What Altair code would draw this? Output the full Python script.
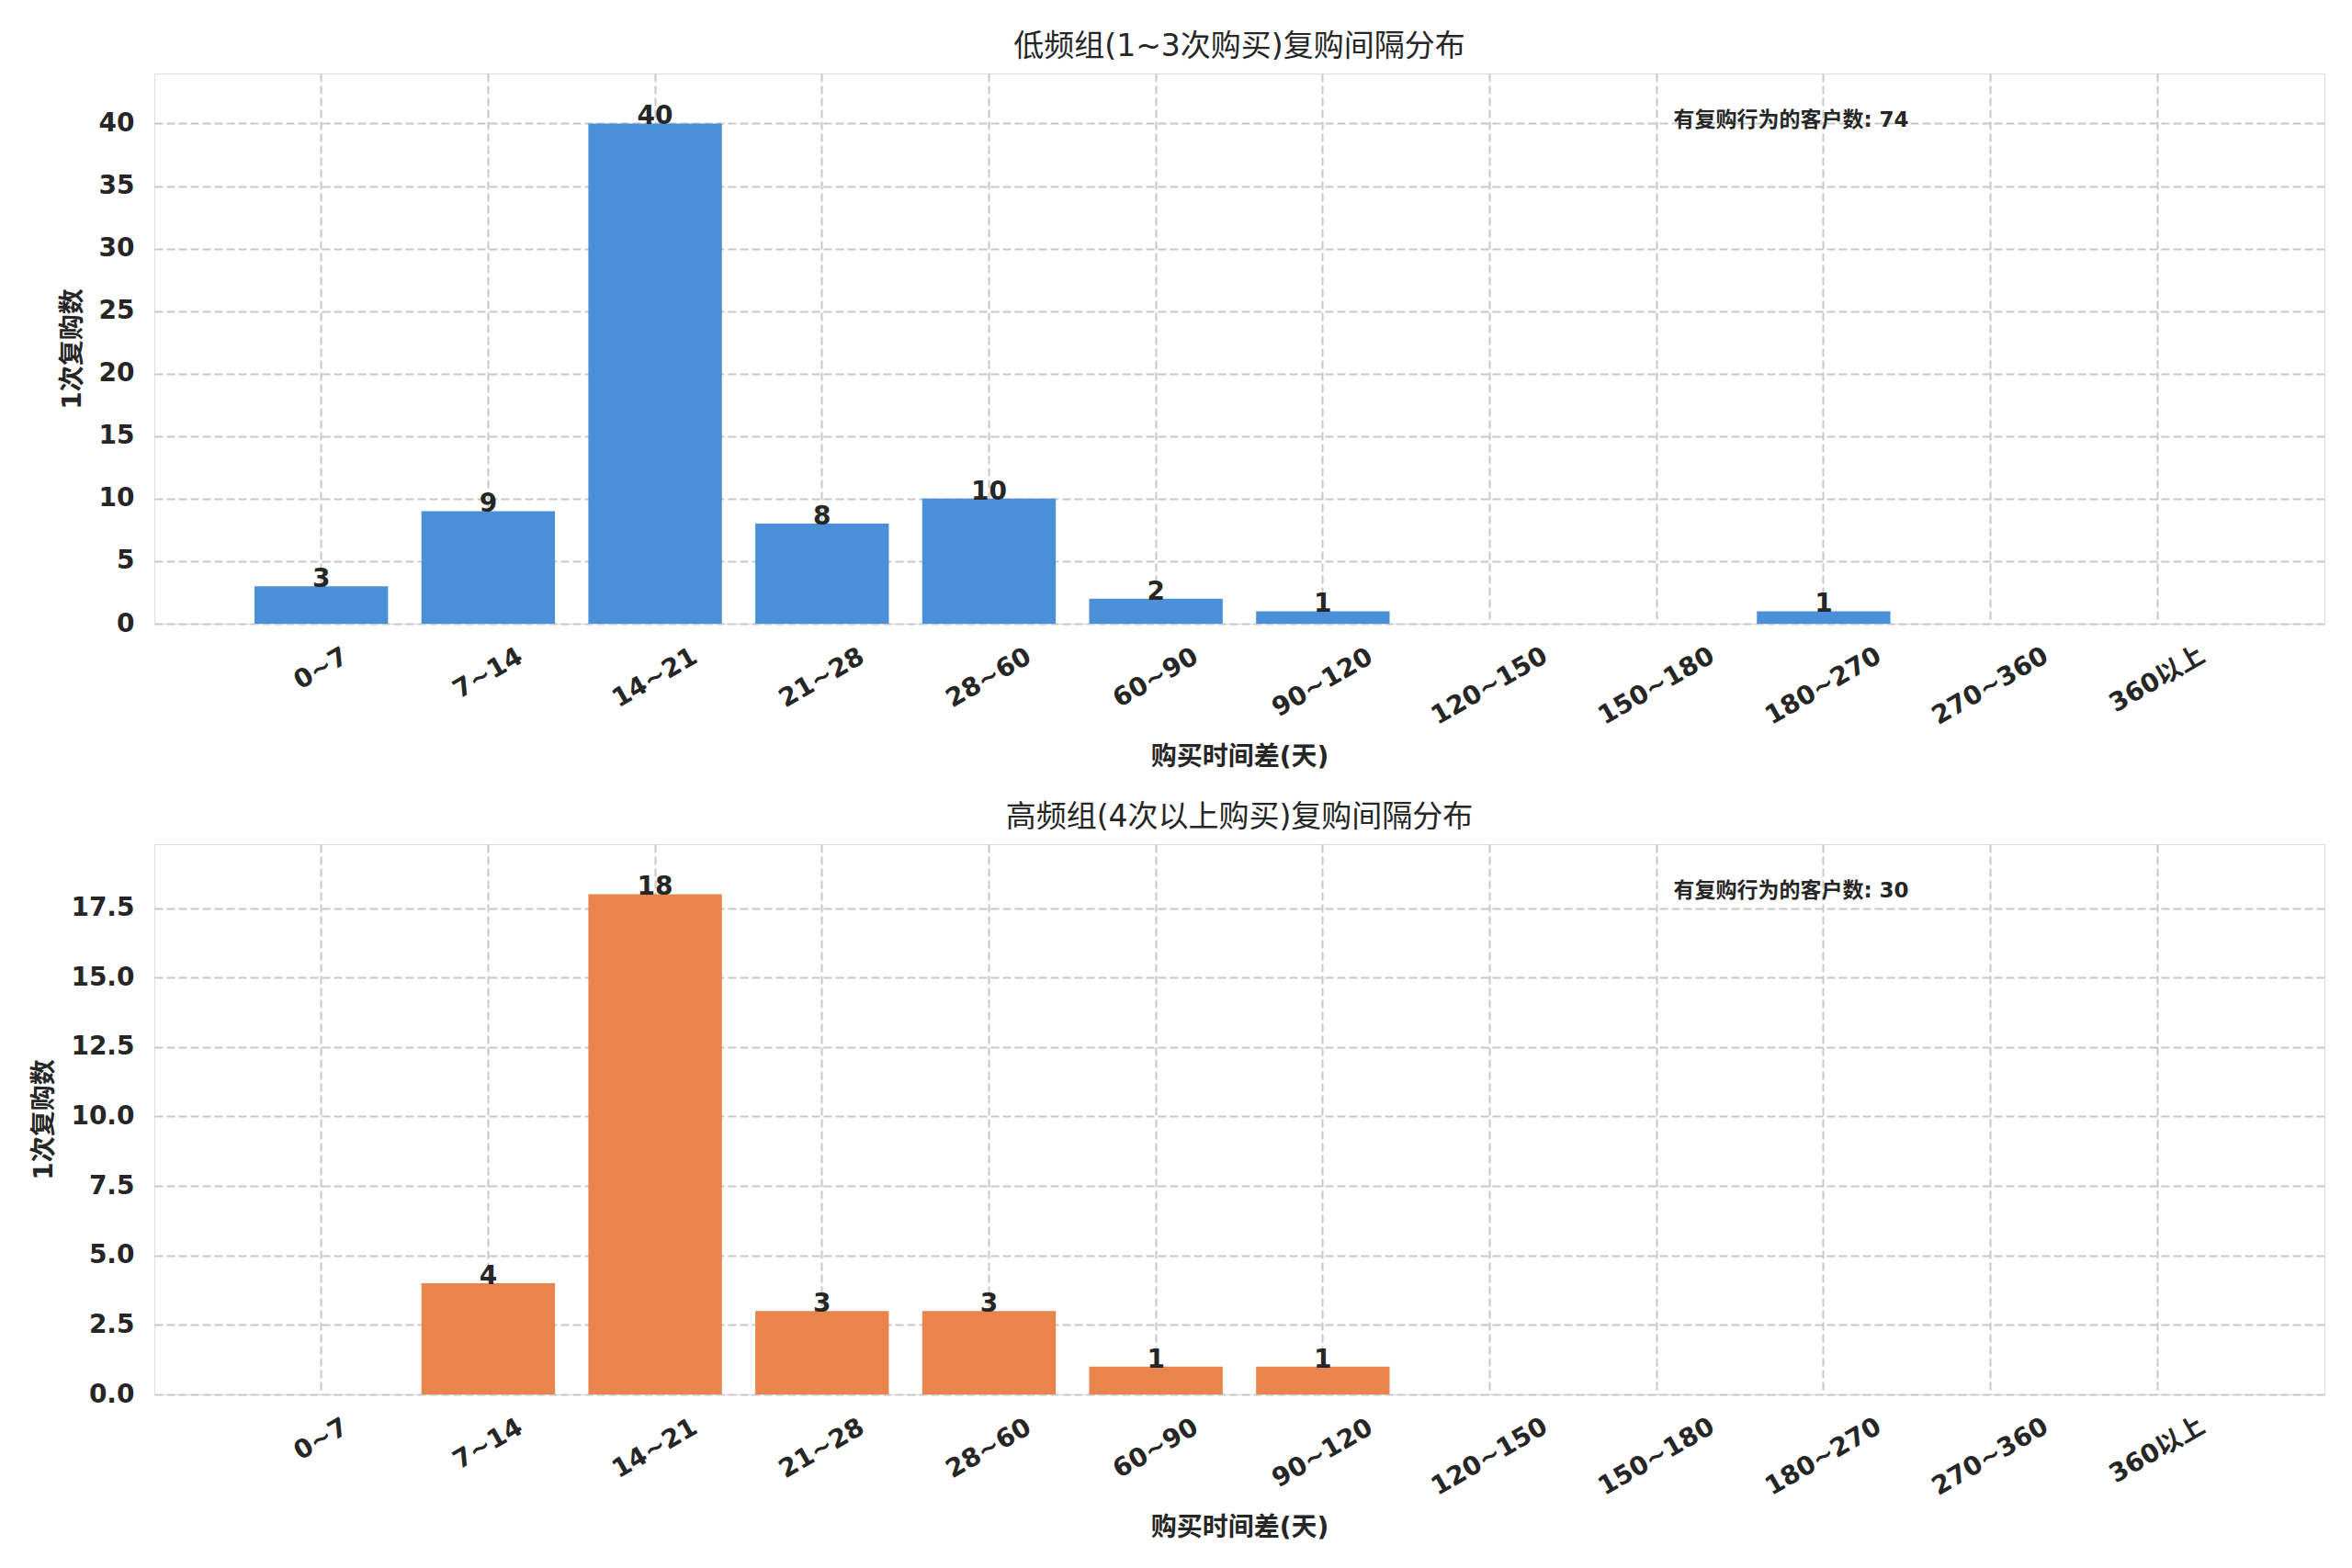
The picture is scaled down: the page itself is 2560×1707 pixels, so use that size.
import altair as alt
import pandas as pd

# ---- data ----
categories = ["0~7", "7~14", "14~21", "21~28", "28~60", "60~90", "90~120",
              "120~150", "150~180", "180~270", "270~360", "360以上"]
low_counts = [3, 9, 40, 8, 10, 2, 1, 0, 0, 1, 0, 0]
high_counts = [0, 4, 18, 3, 3, 1, 1, 0, 0, 0, 0, 0]
panel_titles = ["低频组(1~3次购买)复购间隔分布", "高频组(4次以上购买)复购间隔分布"]
x_title = "购买时间差(天)"
y_title = "1次复购数"
note_label = "有复购行为的客户数"
bar_colors = ["#4A90D9", "#E8844C"]
low_ticks = [0, 5, 10, 15, 20, 25, 30, 35, 40]
high_ticks = [0, 2.5, 5, 7.5, 10, 12.5, 15, 17.5]

FONT = "DejaVu Sans, Noto Sans CJK SC, sans-serif"
TXT = "#262626"
GRID = "#c8c8c8"
W, H = 2362, 599

label_pad = {
    "condition": [
        {"test": "length(datum.label) <= 3", "value": 49},
        {"test": "length(datum.label) == 4", "value": 54},
        {"test": "datum.label == '360以上'", "value": 61},
        {"test": "length(datum.label) == 5", "value": 59},
        {"test": "length(datum.label) == 6", "value": 64},
    ],
    "value": 68,
}


def panel(counts, title, color, ticks, fmt):
    df = pd.DataFrame({"range": categories, "count": counts})
    total = sum(counts)
    xenc = alt.X(
        "range:N", sort=categories,
        scale=alt.Scale(paddingInner=0.2, paddingOuter=0.6),
        axis=alt.Axis(
            title=x_title, labelAngle=-30, labelAlign="center", labelBaseline="middle",
            labelPadding=label_pad, labelOverlap=False, ticks=False, domain=False,
            grid=True, bandPosition=0.5, gridDash=[9, 4], gridColor=GRID, gridWidth=2,
            labelFont=FONT, labelFontSize=28, labelFontWeight="bold", labelColor=TXT,
            titleFont=FONT, titleFontSize=28, titleFontWeight="bold", titleColor=TXT,
            titlePadding=16,
        ),
    )
    yenc = alt.Y(
        "count:Q",
        scale=alt.Scale(domain=[0, max(counts) * 1.1], nice=False, zero=True),
        axis=alt.Axis(
            title=y_title, values=ticks, format=fmt, ticks=False, domain=False,
            grid=True, gridDash=[9, 4], gridColor=GRID, gridWidth=2,
            labelFont=FONT, labelFontSize=28, labelFontWeight="bold", labelColor=TXT,
            labelPadding=22, labelOverlap=False,
            titleFont=FONT, titleFontSize=28, titleFontWeight="bold", titleColor=TXT,
            titlePadding=14,
        ),
    )
    bars = alt.Chart(df).mark_bar(color=color).encode(x=xenc, y=yenc)
    vals = alt.Chart(df).transform_filter("datum.count > 0").mark_text(
        baseline="alphabetic", dy=1, fontSize=28, fontWeight="bold", color=TXT, font=FONT
    ).encode(x=alt.X("range:N", sort=categories), y="count:Q", text="count:Q")
    note = alt.Chart(pd.DataFrame({"t": [f"{note_label}: {total}"]})).mark_text(
        align="left", baseline="middle", fontSize=23, fontWeight="bold", color=TXT, font=FONT
    ).encode(x=alt.value(0.7 * W), y=alt.value(51), text="t:N")
    return alt.layer(bars, vals, note).properties(
        width=W, height=H,
        title=alt.TitleParams(title, fontSize=33, fontWeight="normal", color=TXT, font=FONT,
                              anchor="middle", offset=12),
    )


top = panel(low_counts, panel_titles[0], bar_colors[0], low_ticks, "d")
bottom = panel(high_counts, panel_titles[1], bar_colors[1], high_ticks, ".1f")

chart = alt.vconcat(top, bottom, spacing=240, bounds="flush").properties(
    padding={"left": 26, "top": 26, "right": 5, "bottom": 5}
).configure_view(stroke="#c4c4c4", strokeWidth=2.5).configure(background="white")

chart.save("out.html", embed_options={"renderer": "svg", "actions": False})
